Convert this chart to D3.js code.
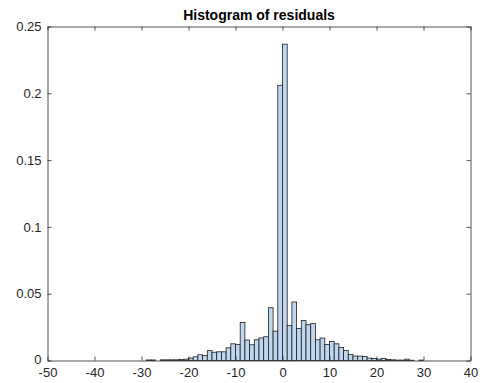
<!DOCTYPE html>
<html>
<head>
<meta charset="utf-8">
<script src="https://cdn.jsdelivr.net/npm/d3@7"></script>
<style>
body { margin: 0; background: #fff; }
text { font-family: "Liberation Sans", Arial, sans-serif; }
</style>
</head>
<body>
<svg id="chart" width="480" height="383"></svg>
<script>
// left edge of each bin (bin width 1)
let binEdges = [-30, -29, -28, -27, -26, -25, -24, -23, -22, -21,
    -20, -19, -18, -17, -16, -15, -14, -13, -12, -11,
    -10, -9, -8, -7, -6, -5, -4, -3, -2, -1,
    0, 1, 2, 3, 4, 5, 6, 7, 8, 9,
    10, 11, 12, 13, 14, 15, 16, 17, 18, 19,
    20, 21, 22, 23, 24, 25, 26, 27, 28, 29]

// probability for each bin
let binValues = [0, 0.0004, 0.0004, 0, 0.0005, 0.0005, 0.0005, 0.0005, 0.0007, 0.001,
    0.0018, 0.0028, 0.0043, 0.0037, 0.0074, 0.0062, 0.0065, 0.0065, 0.0095, 0.0125,
    0.0119, 0.0285, 0.0153, 0.0118, 0.0155, 0.0169, 0.0178, 0.0395, 0.022, 0.206,
    0.2368, 0.0263, 0.0438, 0.024, 0.0299, 0.0268, 0.0276, 0.0155, 0.0168, 0.012,
    0.0142, 0.0125, 0.0097, 0.0075, 0.0046, 0.0033, 0.0033, 0.003, 0.0018, 0.0015,
    0.001, 0.0016, 0.0008, 0.0005, 0.0003, 0.0003, 0.001, 0.0002, 0, 0.0003]

let xTicks = [-50, -40, -30, -20, -10, 0, 10, 20, 30, 40]
let yTicks = [0, 0.05, 0.1, 0.15, 0.2, 0.25]
let yTickLabels = ['0', '0.05', '0.1', '0.15', '0.2', '0.25']

let chartTitle = 'Histogram of residuals'

let plotLeft = 47.5, plotRight = 470.5, plotTop = 26.5, plotBottom = 360.5
let axisColor = '#262626'

let svg = d3.select('#chart')

let xScale = d3.scaleLinear().domain([-50, 40]).range([plotLeft, plotRight])
let yScale = d3.scaleLinear().domain([0, 0.25]).range([plotBottom, plotTop])

let bins = binEdges.map((e, i) => {
    return { x0: e, x1: e + 1, value: binValues[i] }
})

// bars
svg.append('g')
    .selectAll('rect')
    .data(bins.filter((b) => b.value > 0))
    .enter()
    .append('rect')
    .attr('x', (b) => xScale(b.x0))
    .attr('y', (b) => yScale(b.value))
    .attr('width', (b) => xScale(b.x1) - xScale(b.x0))
    .attr('height', (b) => yScale(0) - yScale(b.value))
    .attr('fill', '#bfd6ee')
    .attr('stroke', '#1f1f1f')
    .attr('stroke-width', 0.8)

// axes (plain hyphen for negatives, like the original)
let xAxis = d3.axisBottom(xScale).tickValues(xTicks).tickSize(-4).tickSizeOuter(0).tickPadding(7)
    .tickFormat((d) => String(d))
let xAxisTop = d3.axisTop(xScale).tickValues(xTicks).tickSize(-4).tickSizeOuter(0).tickFormat('')
let yAxis = d3.axisLeft(yScale).tickValues(yTicks).tickSize(-4).tickSizeOuter(0).tickPadding(6)
    .tickFormat((d, i) => yTickLabels[i])
let yAxisRight = d3.axisRight(yScale).tickValues(yTicks).tickSize(-4).tickSizeOuter(0).tickFormat('')

let gx = svg.append('g').attr('transform', 'translate(0,' + plotBottom + ')').call(xAxis)
let gxt = svg.append('g').attr('transform', 'translate(0,' + plotTop + ')').call(xAxisTop)
let gy = svg.append('g').attr('transform', 'translate(' + plotLeft + ',0)').call(yAxis)
let gyr = svg.append('g').attr('transform', 'translate(' + plotRight + ',0)').call(yAxisRight)

;[gx, gxt, gy, gyr].forEach((g) => {
    g.selectAll('path, line').attr('stroke', axisColor).attr('stroke-width', 0.8)
    g.selectAll('text')
        .attr('fill', axisColor)
        .style('font-size', '13px')
        .style('font-family', '"Liberation Sans", Arial, sans-serif')
})

// y label "0" sits a touch higher so it clears "-50"
gy.selectAll('text').filter((d) => d === 0).attr('dy', '0.2em')

svg.append('text')
    .attr('x', (plotLeft + plotRight) / 2)
    .attr('y', 20)
    .attr('text-anchor', 'middle')
    .style('font-size', '14px')
    .style('font-weight', 'bold')
    .attr('fill', '#000')
    .text(chartTitle)
</script>
</body>
</html>
